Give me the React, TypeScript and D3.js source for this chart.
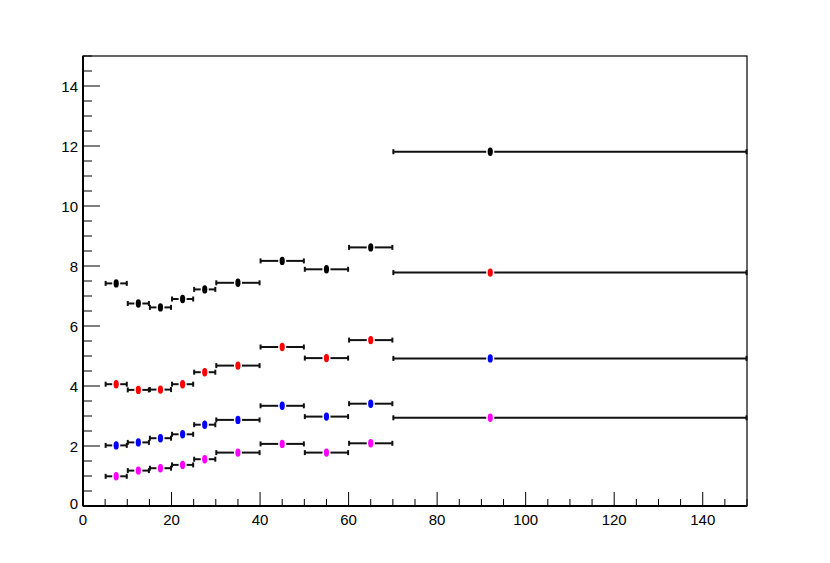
import React from "react";
import * as d3 from "d3";

// bin edges and marker positions
const binEdges = [5, 10, 15, 20, 25, 30, 40, 50, 60, 70, 150];
const xPoints = [7.5, 12.5, 17.5, 22.5, 27.5, 35, 45, 55, 65, 92];

const blackVals = [7.42, 6.75, 6.62, 6.9, 7.22, 7.44, 8.17, 7.89, 8.62, 11.81];
const redVals = [4.06, 3.87, 3.88, 4.06, 4.46, 4.68, 5.3, 4.93, 5.53, 7.78];
const blueVals = [2.02, 2.12, 2.26, 2.39, 2.71, 2.87, 3.34, 2.98, 3.41, 4.92];
const magentaVals = [0.99, 1.18, 1.26, 1.37, 1.56, 1.78, 2.07, 1.78, 2.09, 2.94];

const xTicks = [0, 20, 40, 60, 80, 100, 120, 140];
const yTicks = [0, 2, 4, 6, 8, 10, 12, 14];

const series = [
  { values: blackVals, color: "#000000" },
  { values: redVals, color: "#ff0000" },
  { values: blueVals, color: "#0000ff" },
  { values: magentaVals, color: "#ff00ff" },
];

export default function App() {
  const W = 830;
  const H = 563;
  const left = 83;
  const right = 747;
  const top = 56;
  const bottom = 506;

  const x = d3.scaleLinear().domain([0, 150]).range([left, right]);
  const y = d3.scaleLinear().domain([0, 15]).range([bottom, top]);

  const xMinor = d3.range(0, 151, 5);
  const yMinor = d3.range(0, 15.01, 0.5);
  const font = "'Liberation Sans', Arial, Helvetica, sans-serif";
  const gap = 4;

  return (
    <svg
      width={W}
      height={H}
      style={{ position: "absolute", left: 0, top: 0, background: "#fff" }}
    >
      <rect x={0} y={0} width={W} height={H} fill="#fff" />

      {/* minor + major ticks, x */}
      {xMinor.map((v) => {
        const major = v % 20 === 0;
        return (
          <line
            key={"xm" + v}
            x1={x(v)}
            x2={x(v)}
            y1={bottom}
            y2={bottom - (major ? 14 : 7)}
            stroke="#000"
            strokeWidth={1}
          />
        );
      })}
      {yMinor.map((v) => {
        const major = v % 2 === 0;
        return (
          <line
            key={"ym" + v}
            x1={left}
            x2={left + (major ? 17 : 9)}
            y1={y(v)}
            y2={y(v)}
            stroke="#000"
            strokeWidth={1}
          />
        );
      })}

      {/* frame */}
      <rect
        x={left}
        y={top}
        width={right - left}
        height={bottom - top}
        fill="none"
        stroke="#000"
        strokeWidth={1.2}
      />
      <line x1={left} x2={left} y1={top} y2={bottom} stroke="#000" strokeWidth={2} />
      <line x1={left} x2={right} y1={bottom} y2={bottom} stroke="#000" strokeWidth={2} />

      {/* tick labels */}
      {xTicks.map((v) => (
        <text
          key={"xl" + v}
          x={x(v)}
          y={525}
          textAnchor="middle"
          fontFamily={font}
          fontSize={15}
          fill="#000"
        >
          {v}
        </text>
      ))}
      {yTicks.map((v) => (
        <text
          key={"yl" + v}
          x={78}
          y={y(v) + (v === 0 ? 3 : 5.5)}
          textAnchor="end"
          fontFamily={font}
          fontSize={15}
          fill="#000"
        >
          {v}
        </text>
      ))}

      {/* error bars + markers */}
      {series.map((s, si) =>
        s.values.map((v, i) => {
          const x0 = x(binEdges[i]);
          const x1 = x(binEdges[i + 1]);
          const xc = x(xPoints[i]);
          const yc = y(v);
          return (
            <g key={`p${si}-${i}`}>
              <line x1={x0} x2={xc - gap} y1={yc} y2={yc} stroke="#111" strokeWidth={2} />
              <line x1={xc + gap} x2={x1} y1={yc} y2={yc} stroke="#111" strokeWidth={2} />
              <line x1={x0 + 0.5} x2={x0 + 0.5} y1={yc - 2.5} y2={yc + 2.5} stroke="#111" strokeWidth={2} />
              <line x1={x1 - 0.5} x2={x1 - 0.5} y1={yc - 2.5} y2={yc + 2.5} stroke="#111" strokeWidth={2} />
              <ellipse cx={xc} cy={yc} rx={2.6} ry={4.2} fill={s.color} />
            </g>
          );
        })
      )}
    </svg>
  );
}
